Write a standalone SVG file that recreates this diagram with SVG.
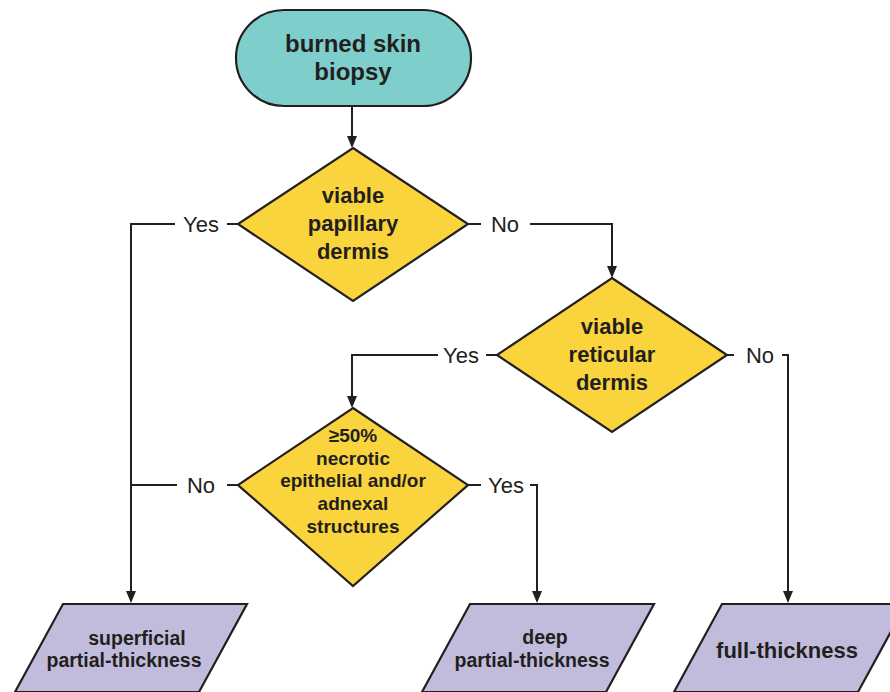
<svg xmlns="http://www.w3.org/2000/svg" width="890" height="692" viewBox="0 0 890 692">
<defs>
<style>
.conn{fill:none;stroke:#231f20;stroke-width:2}
.arr{marker-end:url(#ah)}
.shape{stroke:#231f20;stroke-width:2.2}
.term{fill:#7ecfcc}
.dec{fill:#fad43c}
.out{fill:#c1bcdc}
text{font-family:"Liberation Sans",Arial,sans-serif;fill:#231f20}
.t{font-weight:bold;text-anchor:middle}
.lbl{font-size:22px;text-anchor:middle}
</style>
<marker id="ah" viewBox="0 0 12 10" refX="10" refY="5" markerWidth="12" markerHeight="10" markerUnits="userSpaceOnUse" orient="auto">
<path d="M0,0 L12,5 L0,10 z" fill="#231f20"/>
</marker>
</defs>
<rect width="890" height="692" fill="#ffffff"/>
<g id="connectors">
<line class="conn arr" x1="352" y1="107" x2="352" y2="146"/>
<line class="conn" x1="238" y1="224" x2="227" y2="224"/>
<polyline class="conn arr" points="175,224 131,224 131,601"/>
<line class="conn" x1="468" y1="224" x2="481" y2="224"/>
<polyline class="conn arr" points="530,224 612,224 612,276"/>
<line class="conn" x1="497" y1="355" x2="486" y2="355"/>
<polyline class="conn arr" points="438,355 352,355 352,406"/>
<line class="conn" x1="727" y1="355" x2="734" y2="355"/>
<polyline class="conn arr" points="782,355 788,355 788,601"/>
<line class="conn" x1="131" y1="485" x2="177" y2="485"/>
<line class="conn" x1="227" y1="485" x2="238" y2="485"/>
<line class="conn" x1="468" y1="485" x2="481" y2="485"/>
<polyline class="conn arr" points="530,485 537,485 537,601"/>
<text class="lbl" x="201" y="232">Yes</text>
<text class="lbl" x="505" y="232">No</text>
<text class="lbl" x="461" y="363">Yes</text>
<text class="lbl" x="760" y="363">No</text>
<text class="lbl" x="201" y="493">No</text>
<text class="lbl" x="506" y="493">Yes</text>
</g>
<g id="start">
<rect class="shape term" x="236" y="10" width="235" height="96" rx="48" ry="48"/>
<text class="t" x="353" y="52" font-size="24">burned skin</text>
<text class="t" x="353" y="80" font-size="24">biopsy</text>
</g>
<g id="papillary">
<polygon class="shape dec" points="353,148 468,224 353,301 238,224"/>
<text class="t" x="353" y="203" font-size="22">viable</text>
<text class="t" x="353" y="231" font-size="22">papillary</text>
<text class="t" x="353" y="259" font-size="22">dermis</text>
</g>
<g id="reticular">
<polygon class="shape dec" points="612,278 727,355 612,432 497,355"/>
<text class="t" x="612" y="334" font-size="22">viable</text>
<text class="t" x="612" y="362" font-size="22">reticular</text>
<text class="t" x="612" y="390" font-size="22">dermis</text>
</g>
<g id="necrotic">
<polygon class="shape dec" points="353,408 468,485 353,586 238,485"/>
<text class="t" x="353" y="442" font-size="19">≥50%</text>
<text class="t" x="353" y="465" font-size="19">necrotic</text>
<text class="t" x="353" y="487" font-size="19">epithelial and/or</text>
<text class="t" x="353" y="510" font-size="19">adnexal</text>
<text class="t" x="353" y="533" font-size="19">structures</text>
</g>
<g id="superficial">
<polygon class="shape out" points="63,604 247,604 199,692 15,692"/>
<text class="t" x="137" y="645" font-size="19.5">superficial</text>
<text class="t" x="124" y="667" font-size="19.5">partial-thickness</text>
</g>
<g id="deep">
<polygon class="shape out" points="470,604 654,604 606,692 422,692"/>
<text class="t" x="545" y="644" font-size="19.5">deep</text>
<text class="t" x="532" y="667" font-size="19.5">partial-thickness</text>
</g>
<g id="full">
<polygon class="shape out" points="722,604 906,604 858,692 674,692"/>
<text class="t" x="787" y="658" font-size="22">full-thickness</text>
</g>
</svg>
